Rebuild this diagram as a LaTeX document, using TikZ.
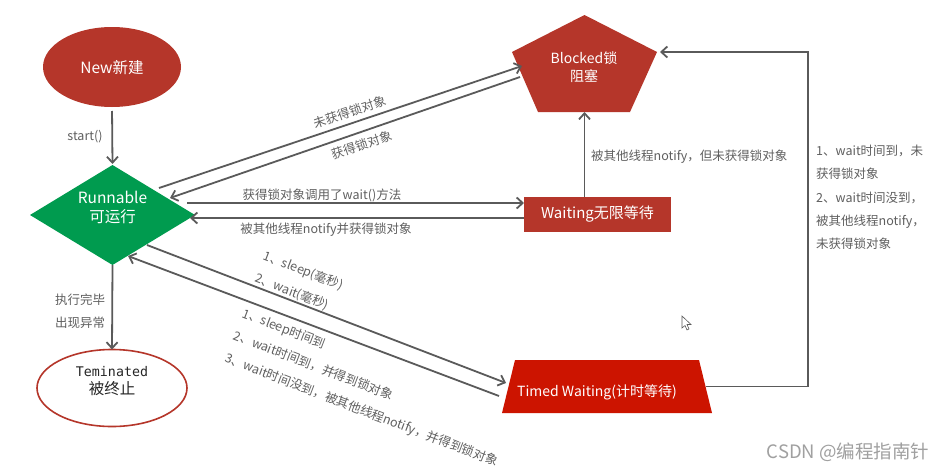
\documentclass[tikz,border=0pt]{standalone}
\usepackage{fontspec}
\setmainfont{Noto Sans CJK SC}
\newfontfamily\monof{DejaVu Sans Mono}
\usetikzlibrary{arrows.meta,shapes.geometric,calc}
\definecolor{darkred}{HTML}{B5362A}
\definecolor{tred}{HTML}{CC1400}
\definecolor{rungreen}{HTML}{009B4F}
\definecolor{linegray}{HTML}{5A5A5A}
\definecolor{labgray}{HTML}{5F5F5F}
\definecolor{wmgray}{HTML}{A0A0A0}
\begin{document}
\begin{tikzpicture}[x=1pt,y=-1pt,
  arr/.style={draw=linegray, line width=1.8pt, -{Straight Barb[length=6pt,width=11pt]}},
  lab/.style={text=labgray, inner sep=0pt, font=\fontsize{12.5}{15}\selectfont},
  wtxt/.style={text=white, inner sep=0pt, align=center},
  boxnode/.style={inner sep=0pt, outer sep=0pt}]
\useasboundingbox[fill=white] (0,0) rectangle (949,471);

% ---- shapes ----
\node[ellipse, fill=darkred, minimum width=138pt, minimum height=80pt, boxnode] (new) at (112,67) {};
\node[wtxt, font=\fontsize{15.5}{18}\selectfont] (newtxt) at (112,68) {New新建};

\node[diamond, fill=rungreen, minimum width=165pt, minimum height=100pt, shape aspect=1.65, boxnode] (run) at (112.5,215) {};
\node[wtxt, font=\fontsize{15.5}{19}\selectfont] (runtxt) at (112.5,207.5) {Runnable\\可运行};

\node[ellipse, draw=darkred, line width=1.6pt, fill=white, minimum width=150pt, minimum height=77pt, boxnode] (term) at (112,388) {};
\node[inner sep=0pt, text=black!85, font=\monof\fontsize{13.3}{16}\selectfont] (termtxt1) at (112,372) {Teminated};
\node[inner sep=0pt, text=black!85, font=\fontsize{15.5}{18}\selectfont] (termtxt2) at (112,389) {被终止};

\node[boxnode, minimum width=145pt, minimum height=97pt] (blk) at (584.5,63.5) {};
\fill[darkred] (blk.north) -- ([yshift=-37pt]blk.north west) -- ([xshift=26pt]blk.south west)
  -- ([xshift=-27pt]blk.south east) -- ([yshift=-37pt]blk.north east) -- cycle;
\node[wtxt, font=\fontsize{14}{18}\selectfont] (blktxt) at (584,67) {Blocked锁\\阻塞};

\node[rectangle, fill=darkred, minimum width=147pt, minimum height=35pt, boxnode, text=white,
  font=\fontsize{15}{18}\selectfont] (wait) at (597.5,214.5) {Waiting无限等待};

\node[boxnode, minimum width=210pt, minimum height=53pt] (tw) at (607,386.5) {};
\fill[tred] ([xshift=13pt]tw.north west) -- ([xshift=-13pt]tw.north east) -- (tw.south east) -- (tw.south west) -- cycle;
\node[wtxt, font=\fontsize{14}{17}\selectfont] (twtxt) at (597,392) {Timed Waiting(计时等待)};

% ---- connectors ----
\draw[arr, shorten <=4pt, shorten >=1pt] (new.south) -- (run.north);
\draw[arr, shorten >=0pt] (run.south) -- (term.north);

\draw[arr] ([shift={(46.5pt,-23pt)}]run.north) -- ([shift={(10pt,-2.5pt)}]blk.west);
\draw[arr] ([shift={(8pt,-13.5pt)}]blk.west) -- ([shift={(57.5pt,-33pt)}]run.north);

\draw[arr] ([shift={(-8pt,12pt)}]run.east) -- ([yshift=11.5pt]wait.west);
\draw[arr] ([yshift=-3.5pt]wait.west) -- ([shift={(-5pt,-3pt)}]run.east);

\draw[arr] (blk.south |- wait.north) -- (blk.south);

\draw[arr] ([shift={(34.5pt,20pt)}]run.south) -- ([shift={(4pt,3.5pt)}]tw.west);
\draw[arr] ([shift={(-3pt,-9.5pt)}]tw.west) -- ([shift={(15.5pt,9pt)}]run.south);

\draw[arr] ([xshift=-6pt]tw.east) -| ([shift={(151pt,11.5pt)}]blk.east) -- ([shift={(3pt,11.5pt)}]blk.east);

% ---- labels ----
\node[lab] (l1) at (85,137) {start()};
\node[lab, rotate=18.6] (l2) at (350,112) {未获得锁对象};
\node[lab, rotate=18.6] (l3) at (362,145) {获得锁对象};
\node[lab] (l4) at (322,195) {获得锁对象调用了wait()方法};
\node[lab] (l5) at (326,230) {被其他线程notify并获得锁对象};
\node[lab, anchor=west] (l6) at (591,157) {被其他线程notify，但未获得锁对象};
\node[lab, anchor=west, align=left, font=\fontsize{12.5}{23.3}\selectfont] (l7) at (816,197.5)
  {1、wait时间到，未\\获得锁对象\\2、wait时间没到，\\被其他线程notify，\\未获得锁对象};
\node[lab, align=center, font=\fontsize{12.5}{23}\selectfont] (l8) at (80,311) {执行完毕\\出现异常};
\node[lab, rotate=-21, align=left, font=\fontsize{12.5}{24}\selectfont] (l9) at (299,282)
  {1、sleep(毫秒)\\2、wait(毫秒)};
\node[lab, rotate=-21, align=left, font=\fontsize{12.5}{24}\selectfont] (l10) at (370,388)
  {1、sleep时间到\\2、wait时间到，并得到锁对象\\3、wait时间没到，被其他线程notify，并得到锁对象};

% ---- cursor and watermark ----
\draw[linegray, line width=0.6pt, fill=white] (682,316) -- (682,328) -- (685,325.5) -- (687,330) -- (689,329) -- (687,324.5) -- (691,324.5) -- cycle;
\node[text=wmgray, inner sep=0pt, font=\fontsize{18.5}{20}\selectfont] (wm) at (848,452) {CSDN @编程指南针};
\end{tikzpicture}
\end{document}
